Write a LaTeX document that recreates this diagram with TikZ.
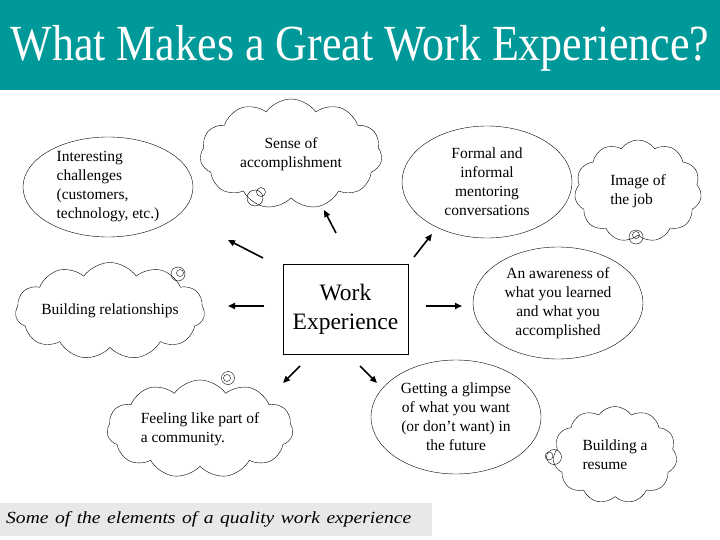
\documentclass[tikz,border=0pt]{standalone}
\usepackage{fontspec}
\setmainfont{Liberation Serif}
\usetikzlibrary{shapes.geometric,shapes.symbols,arrows.meta}
\definecolor{bandteal}{RGB}{0,153,153}
\definecolor{capgray}{RGB}{232,232,232}
\tikzset{
  idea/.style={draw, ellipse, inner sep=0pt, align=center, font=\fontsize{15.5}{19}\selectfont},
  thought/.style={draw, cloud, cloud puffs=11, cloud puff arc=110, cloud ignores aspect, inner sep=0pt, align=left, font=\fontsize{15.5}{19}\selectfont},
  bubble/.style={draw, circle, inner sep=0pt},
  push/.style={-{Triangle[length=7pt,width=6pt]}, line width=1.6pt}
}
\begin{document}
\begin{tikzpicture}[x=1pt,y=-1pt]
\useasboundingbox (0,0) rectangle (720,540);
\fill[bandteal] (0,0) rectangle (720,90);
\node[text=white, font=\fontsize{44}{50}\selectfont] (title) at (360,48) {\scalebox{1}[1.15]{What Makes a Great Work Experience?}};

\node[draw, minimum width=125pt, minimum height=90pt, align=center, font=\fontsize{23.5}{29}\selectfont] (work) at (345.5,309) {Work\\Experience};

\node[idea, align=left, minimum width=170pt, minimum height=100pt] (challenges) at (108,187) {Interesting\\challenges\\(customers,\\technology, etc.)};
\node[idea, minimum width=170pt, minimum height=112pt] (mentoring) at (487,182) {Formal and\\informal\\mentoring\\conversations};
\node[idea, minimum width=170pt, minimum height=112pt] (awareness) at (558,303) {An awareness of\\what you learned\\and what you\\accomplished};
\node[idea, minimum width=170pt, minimum height=114pt] (glimpse) at (456,417) {Getting a glimpse\\of what you want\\(or don't want) in\\the future};

\node[thought, align=center, minimum width=182pt, minimum height=110pt] (sense) at (291,154) {Sense of\\accomplishment};
\node[thought, minimum width=127pt, minimum height=102pt] (image) at (638,191) {Image of\\the job};
\node[thought, minimum width=187pt, minimum height=97pt] (relations) at (110,311) {Building relationships};
\node[thought, minimum width=186pt, minimum height=98pt] (community) at (200,429) {Feeling like part of\\a community.};
\node[thought, minimum width=124pt, minimum height=97pt] (resume) at (615,455) {Building a\\resume};

% thought bubbles
\node[bubble, minimum size=16pt] (b1) at (255,198) {};
\node[bubble, minimum size=9pt] (b1s) at (261,192) {};
\node[bubble, minimum size=14pt] (b2) at (636,237) {};
\node[bubble, minimum size=7pt] (b2s) at (636,235) {};
\node[bubble, minimum size=14pt] (b3) at (178,274) {};
\node[bubble, minimum size=7pt] (b3s) at (180,273) {};
\node[bubble, minimum size=13pt] (b4) at (228,378) {};
\node[bubble, minimum size=7pt] (b4s) at (227,378) {};
\node[bubble, minimum size=15pt] (b5) at (554,457) {};
\node[bubble, minimum size=8pt] (b5s) at (549,456) {};

% arrows out of the box
\coordinate (up0) at (336,233);   \coordinate (up1) at (324,210);
\coordinate (ul0) at (263,258);   \coordinate (ul1) at (228,240);
\coordinate (ur0) at (414,257);   \coordinate (ur1) at (432,234);
\coordinate (lf0) at (264,306);   \coordinate (lf1) at (228,306);
\coordinate (rt0) at (426,306);   \coordinate (rt1) at (462,306);
\coordinate (dl0) at (300,366);   \coordinate (dl1) at (283,383);
\coordinate (dr0) at (360,366);   \coordinate (dr1) at (377,383);
\draw[push] (up0) -- (up1);
\draw[push] (ul0) -- (ul1);
\draw[push] (ur0) -- (ur1);
\draw[push] (lf0) -- (lf1);
\draw[push] (rt0) -- (rt1);
\draw[push] (dl0) -- (dl1);
\draw[push] (dr0) -- (dr1);

\node[fill=capgray, anchor=west, minimum height=33pt, text width=420pt, inner xsep=6pt, align=left, font=\fontsize{17}{20}\selectfont\itshape] (caption) at (0,519) {\scalebox{1.15}[1]{Some of the elements of a quality work experience}};
\end{tikzpicture}
\end{document}
